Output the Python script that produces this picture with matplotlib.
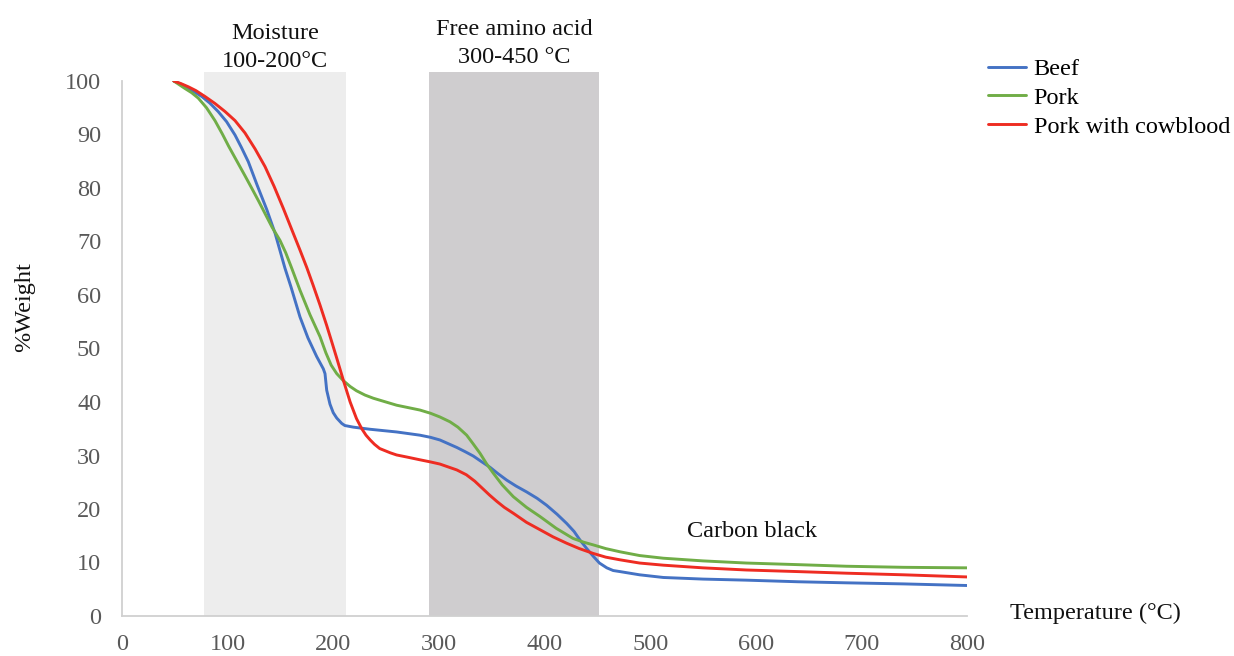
import matplotlib
matplotlib.use("Agg")
import matplotlib.pyplot as plt
from matplotlib.patches import Rectangle

plt.rcParams["font.family"] = ["Liberation Serif", "DejaVu Serif"]

# Thermogravimetric curves: temperature (°C) vs remaining weight (%)
beef_t = [49, 56, 63, 69, 75.5, 83, 91, 99, 107, 113, 119.6, 128, 137, 145, 154.3, 160,
          168.5, 176, 184.3, 190.6, 192.2, 193.8, 196.9, 200, 203.3, 208, 211, 219,
          235, 260, 282, 292, 301, 309, 317, 325, 332.6, 340, 348.4, 356, 364.2, 373,
          383, 393, 402, 412, 421, 428, 433.6, 440, 446, 452, 459, 465, 471.5, 490,
          512.5, 550, 591, 640, 686, 740, 800]
beef_w = [100, 99.4, 98.6, 97.9, 97.1, 95.9, 94.3, 92.4, 89.9, 87.6, 84.9, 80.5, 76.0,
          71.5, 65.0, 61.5, 55.9, 52.0, 48.5, 46.2, 45.3, 42.2, 39.6, 38.0, 37.0, 36.0,
          35.6, 35.3, 34.9, 34.4, 33.8, 33.4, 32.9, 32.2, 31.5, 30.7, 29.9, 28.9, 27.8,
          26.6, 25.4, 24.3, 23.2, 22.0, 20.7, 19.0, 17.3, 15.8, 14.2, 12.6, 11.2, 9.9,
          9.0, 8.5, 8.3, 7.7, 7.2, 6.9, 6.7, 6.4, 6.2, 6.0, 5.7]

pork_t = [49, 59.6, 66, 72.2, 80, 88, 95, 101, 108, 116.4, 123, 129.5, 136, 142, 149.6,
          155, 160.7, 168.5, 178, 187.5, 193, 198, 203.3, 209.5, 216, 222, 230, 238,
          260, 282, 292, 301, 310.5, 318, 326.3, 332, 339, 345, 351.5, 360, 370.5, 383,
          395.7, 411, 427, 437, 446, 458, 471.5, 490, 512.5, 550, 591, 640, 686, 740,
          800]
pork_w = [100, 98.6, 97.8, 96.8, 95.0, 92.6, 90.1, 87.8, 85.3, 82.3, 79.9, 77.5, 75.0,
          72.7, 70.2, 67.9, 65.0, 60.9, 56.3, 52.2, 49.2, 46.9, 45.3, 44.0, 42.9, 42.1,
          41.3, 40.7, 39.4, 38.5, 37.9, 37.2, 36.3, 35.3, 33.8, 32.3, 30.4, 28.5, 26.7,
          24.5, 22.3, 20.3, 18.6, 16.4, 14.5, 13.8, 13.3, 12.6, 12.0, 11.3, 10.8, 10.3,
          9.9, 9.6, 9.3, 9.1, 9.0]

blood_t = [49, 56, 63, 70, 78.6, 88, 97.5, 107, 116.4, 126, 135.4, 144, 152.7, 162.2,
           168.5, 175, 181, 187.5, 193.8, 198.5, 203.3, 209.5, 216, 222, 227, 231, 235,
           239, 244, 254, 260, 270, 282, 292, 301, 317, 326, 334, 341, 348, 355, 362,
           370.5, 383, 396, 408, 421, 433, 446, 458, 471.5, 490, 512.5, 550, 591, 640,
           686, 740, 800]
blood_w = [100, 99.5, 98.9, 98.2, 97.1, 95.8, 94.3, 92.6, 90.3, 87.3, 84.0, 80.3, 76.2,
           71.5, 68.4, 65.1, 61.8, 58.1, 54.3, 51.3, 48.2, 44.1, 40.0, 36.9, 35.0, 33.8,
           32.9, 32.1, 31.3, 30.5, 30.1, 29.7, 29.2, 28.8, 28.4, 27.3, 26.4, 25.2, 23.9,
           22.6, 21.4, 20.3, 19.2, 17.5, 16.1, 14.8, 13.6, 12.6, 11.7, 11.0, 10.5, 9.9,
           9.5, 9.0, 8.6, 8.3, 8.0, 7.7, 7.3]

series_names = ["Beef", "Pork", "Pork with cowblood"]
series_colors = ["#4472C4", "#70AD47", "#EE2C22"]

# Temperature bands of the main decomposition stages
band_ranges = [(78, 212), (291, 452)]
band_labels = ["Moisture\n100-200°C", "Free amino acid\n300-450 °C"]
band_label_y = [101.7, 102.4]
band_colors = ["#EDEDED", "#CFCDCF"]
band_top = 101.7

x_ticks = [0, 100, 200, 300, 400, 500, 600, 700, 800]
y_ticks = [0, 10, 20, 30, 40, 50, 60, 70, 80, 90, 100]

FS = 17.5

fig = plt.figure(figsize=(12.34, 6.56), dpi=100)
ax = fig.add_axes([122 / 1234, 40 / 656, 845 / 1234, 535 / 656])
ax.set_xlim(0, 800)
ax.set_ylim(0, 100)

for (x0, x1), lab, ly, col in zip(band_ranges, band_labels, band_label_y, band_colors):
    ax.add_patch(Rectangle((x0, 0), x1 - x0, band_top, facecolor=col,
                           edgecolor="none", zorder=0, clip_on=False))
    ax.text((x0 + x1) / 2, ly, lab, ha="center", va="bottom",
            fontsize=FS, color="#111111", linespacing=1.42, clip_on=False)

for t, w, name, col in zip([beef_t, pork_t, blood_t], [beef_w, pork_w, blood_w],
                           series_names, series_colors):
    ax.plot(t, w, color=col, lw=2.1, label=name, solid_joinstyle="round",
            solid_capstyle="round", zorder=3)

ax.text(596, 15.8, "Carbon black", ha="center", va="center", fontsize=FS,
        color="#111111")

ax.set_xticks(x_ticks)
ax.set_yticks(y_ticks)
ax.tick_params(axis="both", length=0, labelsize=FS, labelcolor="#595959")
ax.tick_params(axis="x", pad=13)
ax.tick_params(axis="y", pad=15)
for side in ["top", "right"]:
    ax.spines[side].set_visible(False)
for side in ["left", "bottom"]:
    ax.spines[side].set_color("#D0D0D0")
    ax.spines[side].set_linewidth(1.3)

fig.text(25 / 1234, 1 - 307 / 656, "%Weight", rotation=90, ha="center", va="center",
         fontsize=FS, color="#111111")
fig.text(1010 / 1234, 1 - 613 / 656, "Temperature (°C)", ha="left", va="center",
         fontsize=FS, color="#111111")

fig.legend(loc="upper left", bbox_to_anchor=(988 / 1234, 1 - 58 / 656),
           frameon=False, fontsize=FS, handlelength=1.55, handletextpad=0.33,
           labelspacing=0.28, borderpad=0, borderaxespad=0)

fig.savefig("out.png", dpi=100)
